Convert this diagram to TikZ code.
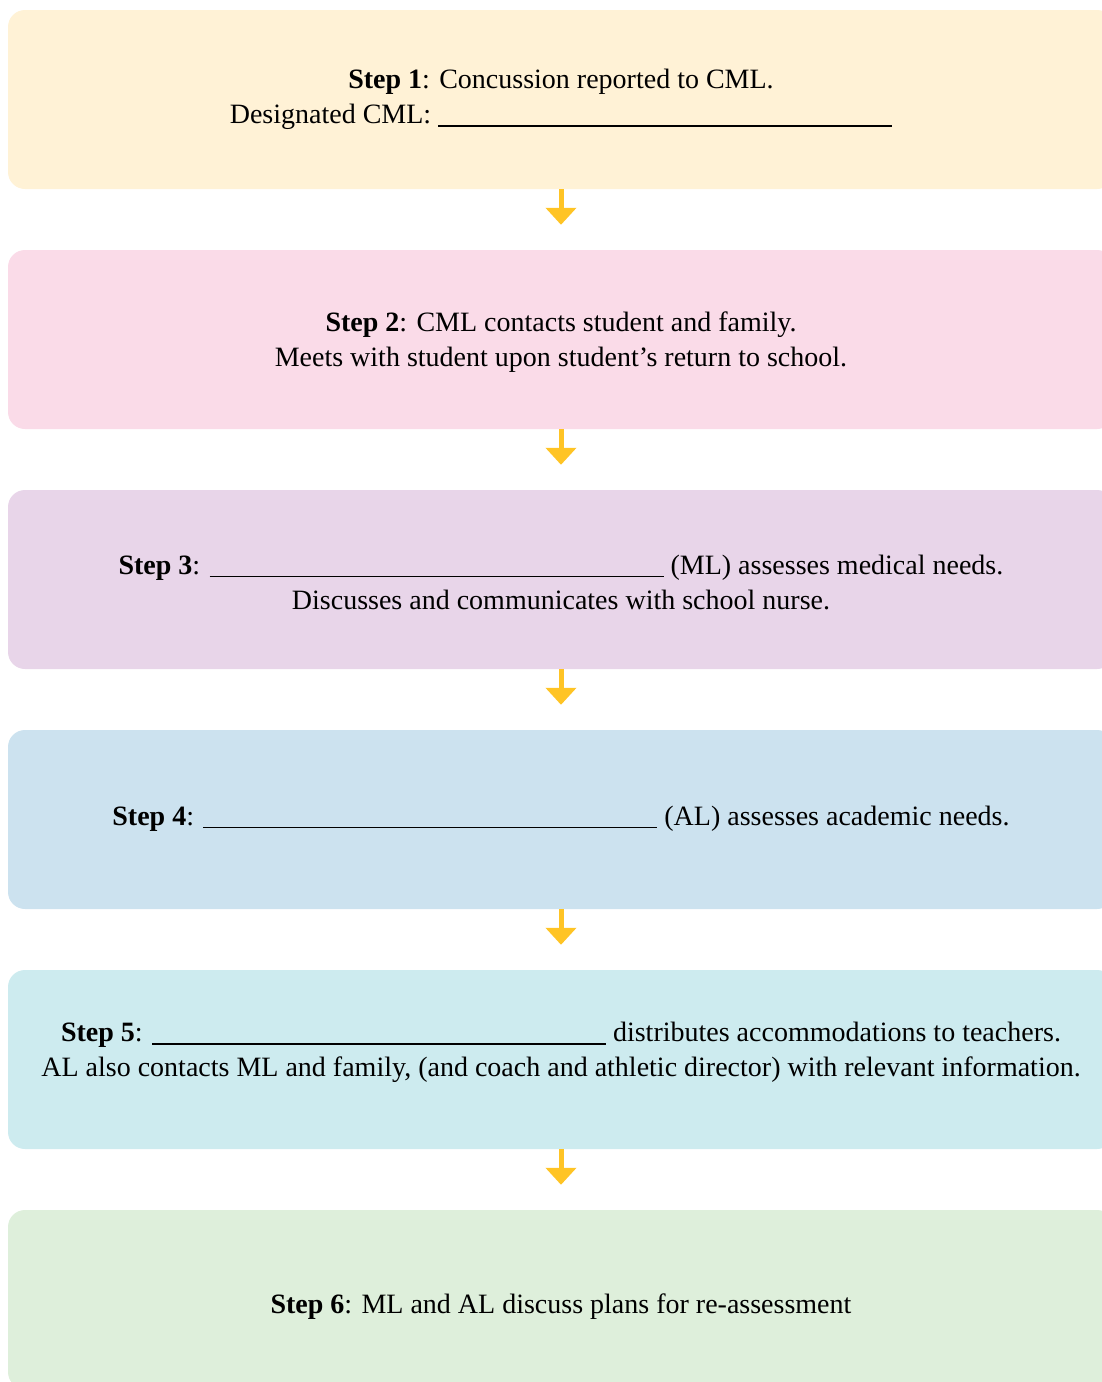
\documentclass[tikz,border=0pt]{standalone}
\usepackage{fontspec}
\setmainfont{Liberation Serif}
\usetikzlibrary{arrows.meta}
\definecolor{c1}{RGB}{255,242,214}
\definecolor{c2}{RGB}{250,219,232}
\definecolor{c3}{RGB}{232,213,233}
\definecolor{c4}{RGB}{204,226,239}
\definecolor{c5}{RGB}{205,235,239}
\definecolor{c6}{RGB}{222,239,219}
\definecolor{arrowc}{RGB}{255,196,37}
\newcommand{\blank}{\rule[-3pt]{454pt}{1.3pt}}
\begin{document}
\begin{tikzpicture}[x=1pt,y=-1pt,
  stepbox/.style={rounded corners=17pt, minimum width=1106pt, minimum height=179pt,
    inner sep=0pt},
  steptext/.style={inner sep=0pt, align=center, font=\fontsize{28}{35}\selectfont, text=black},
  flow/.style={line width=5pt, color=arrowc, shorten >=25pt,
    -{Triangle[width=30pt,length=17pt]}}]
\useasboundingbox (0,0) rectangle (1102,1382);
\clip (0,0) rectangle (1102,1382);
\node[stepbox, fill=c1] (b1) at (561,99.5) {};
\node[stepbox, fill=c2] (b2) at (561,339.5) {};
\node[stepbox, fill=c3] (b3) at (561,579.5) {};
\node[stepbox, fill=c4] (b4) at (561,819.5) {};
\node[stepbox, fill=c5] (b5) at (561,1059.5) {};
\node[stepbox, fill=c6] (b6) at (561,1299.5) {};
\node[steptext] (t1) at (561,99.5) {\textbf{Step 1}: Concussion reported to CML.\\Designated CML: \blank};
\node[steptext] (t2) at (561,342.5) {\textbf{Step 2}: CML contacts student and family.\\Meets with student upon student’s return to school.};
\node[steptext] (t3) at (561,582) {\textbf{Step 3}: \blank{} (ML) assesses medical needs.\\Discusses and communicates with school nurse.};
\node[steptext] (t4) at (561,818.5) {\textbf{Step 4}: \blank{} (AL) assesses academic needs.};
\node[steptext] (t5) at (561,1052.5) {\textbf{Step 5}: \blank{} distributes accommodations to teachers.\\AL also contacts ML and family, (and coach and athletic director) with relevant information.};
\node[steptext] (t6) at (561,1306.5) {\textbf{Step 6}: ML and AL discuss plans for re-assessment};
\draw[flow] (b1.south) -- (b2.north);
\draw[flow] (b2.south) -- (b3.north);
\draw[flow] (b3.south) -- (b4.north);
\draw[flow] (b4.south) -- (b5.north);
\draw[flow] (b5.south) -- (b6.north);
\end{tikzpicture}
\end{document}
